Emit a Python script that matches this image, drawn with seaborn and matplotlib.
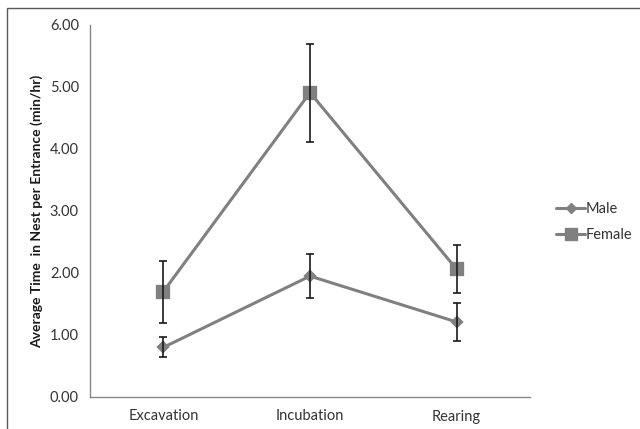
import matplotlib
matplotlib.use("Agg")
import matplotlib.pyplot as plt
import seaborn as sns
import pandas as pd
from matplotlib.patches import Rectangle
from matplotlib.lines import Line2D

categories = ["Excavation", "Incubation", "Rearing"]
male_values = [0.80, 1.95, 1.21]
male_errors = [0.16, 0.36, 0.31]
female_values = [1.70, 4.91, 2.06]
female_errors = [0.50, 0.79, 0.39]
series_names = ["Male", "Female"]
y_ticks = [0, 1, 2, 3, 4, 5, 6]

df = pd.DataFrame({
    "Stage": categories * 2,
    "Value": male_values + female_values,
    "Err": male_errors + female_errors,
    "Sex": ["Male"] * 3 + ["Female"] * 3,
})

sns.set_theme(style="white")
plt.rcParams["font.family"] = ["Lato", "DejaVu Sans"]

fig = plt.figure(figsize=(6.4, 4.29), dpi=100)
W, H = 640, 429
ax = fig.add_axes([90 / W, 1 - 397 / H, 440 / W, 372 / H])

gray = "#808080"
sns.pointplot(data=df, x="Stage", y="Value", hue="Sex", order=categories,
              hue_order=series_names, palette=[gray, gray], markers=["D", "s"],
              errorbar=None, dodge=False, ax=ax, legend=False,
              linewidth=2.2, markersize=7)
for line in ax.lines:
    if line.get_marker() == "D":
        line.set_markersize(5.5)
    elif line.get_marker() == "s":
        line.set_markersize(8)

xpos = list(range(len(categories)))
ax.errorbar(xpos, male_values, yerr=male_errors, fmt="none", ecolor="#1a1a1a",
            elinewidth=1.2, capsize=3, capthick=1.2, zorder=5)
ax.errorbar(xpos, female_values, yerr=female_errors, fmt="none", ecolor="#1a1a1a",
            elinewidth=1.2, capsize=3, capthick=1.2, zorder=5)

fs = 10.5
ax.set_xlim(-0.5, 2.5)
ax.set_ylim(0, 6)
ax.set_yticks(y_ticks)
ax.set_yticklabels([f"{v:.2f}" for v in y_ticks], fontsize=fs, color="#333333")
ax.set_xticks([-0.5, 0.5, 1.5, 2.5], minor=False)
ax.set_xticklabels([])
ax.set_xticks(xpos, minor=True)
ax.set_xticklabels(categories, minor=True, fontsize=fs, color="#333333")
ax.tick_params(axis="x", which="major", direction="out", length=5, color="#868686", width=1)
ax.tick_params(axis="x", which="minor", length=0, pad=9)
ax.tick_params(axis="y", direction="out", length=5, color="#868686", width=1, pad=3)
ax.set_xlabel("")
ax.set_ylabel("Average Time  in Nest per Entrance (min/hr)", fontsize=10,
              fontweight="bold", color="#1a1a1a", labelpad=5)
for s in ["top", "right"]:
    ax.spines[s].set_visible(False)
for s in ["left", "bottom"]:
    ax.spines[s].set_color("#868686")
    ax.spines[s].set_linewidth(1)

handles = [
    Line2D([], [], color=gray, linewidth=2.2, marker="D", markersize=5.5),
    Line2D([], [], color=gray, linewidth=2.2, marker="s", markersize=8),
]
fig.legend(handles, series_names, loc="center left",
           bbox_to_anchor=(543 / W, 1 - 222 / H), frameon=False, fontsize=fs,
           handlelength=2.0, handletextpad=0.05, labelspacing=0.85,
           labelcolor="#333333")

fig.patches.append(Rectangle((7 / W, 0 - 0.05), 1.2, 1 - 8 / H + 0.05,
                             transform=fig.transFigure, fill=False,
                             edgecolor="#595959", linewidth=1.0))

fig.savefig("out.png", dpi=100)
